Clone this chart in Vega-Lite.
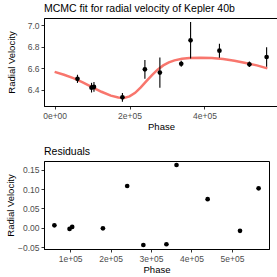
{
  "$schema": "https://vega.github.io/schema/vega-lite/v6.json",
  "background": "white",
  "padding": {"left": 4, "top": 3, "right": 5, "bottom": 0},
  "config": {
    "font": "Liberation Sans",
    "view": {"stroke": "black", "strokeWidth": 1},
    "axis": {
      "grid": false,
      "domainColor": "black",
      "domainWidth": 1,
      "tickColor": "#333333",
      "tickSize": 3,
      "labelColor": "#4D4D4D",
      "labelFontSize": 8.5,
      "titleFontSize": 9.5,
      "titleFontWeight": "normal",
      "titleColor": "black",
      "labelPadding": 2,
      "titlePadding": 2,
      "labelOverlap": false,
      "labelFlush": false
    },
    "title": {"fontSize": 10.5, "fontWeight": "normal", "anchor": "start", "frame": "group", "offset": 4},
    "concat": {"spacing": 14}
  },
  "datasets": {
    "obs": [
      {"phase": 61000, "rv": 6.500, "err": 0.038, "resid": 0.0067},
      {"phase": 98500, "rv": 6.418, "err": 0.045, "resid": -0.0025},
      {"phase": 105000, "rv": 6.425, "err": 0.045, "resid": 0.0025},
      {"phase": 181000, "rv": 6.328, "err": 0.040, "resid": -0.001},
      {"phase": 241000, "rv": 6.588, "err": 0.087, "resid": 0.108},
      {"phase": 281000, "rv": 6.558, "err": 0.140, "resid": -0.044},
      {"phase": 338000, "rv": 6.640, "err": 0.027, "resid": -0.042},
      {"phase": 363000, "rv": 6.858, "err": 0.170, "resid": 0.162},
      {"phase": 440000, "rv": 6.762, "err": 0.065, "resid": 0.074},
      {"phase": 520000, "rv": 6.635, "err": 0.025, "resid": -0.0075},
      {"phase": 566000, "rv": 6.703, "err": 0.090, "resid": 0.102}
    ],
    "fit": [
      {"phase": 0, "rv": 6.565},
      {"phase": 25000, "rv": 6.538},
      {"phase": 50000, "rv": 6.507},
      {"phase": 75000, "rv": 6.468},
      {"phase": 100000, "rv": 6.424},
      {"phase": 125000, "rv": 6.380},
      {"phase": 150000, "rv": 6.344},
      {"phase": 170000, "rv": 6.327},
      {"phase": 185000, "rv": 6.323},
      {"phase": 200000, "rv": 6.337},
      {"phase": 215000, "rv": 6.370},
      {"phase": 230000, "rv": 6.420},
      {"phase": 245000, "rv": 6.478},
      {"phase": 260000, "rv": 6.535},
      {"phase": 275000, "rv": 6.585},
      {"phase": 290000, "rv": 6.625},
      {"phase": 305000, "rv": 6.653},
      {"phase": 320000, "rv": 6.672},
      {"phase": 340000, "rv": 6.686},
      {"phase": 360000, "rv": 6.693},
      {"phase": 390000, "rv": 6.697},
      {"phase": 420000, "rv": 6.694},
      {"phase": 450000, "rv": 6.684},
      {"phase": 480000, "rv": 6.668},
      {"phase": 510000, "rv": 6.648},
      {"phase": 540000, "rv": 6.625},
      {"phase": 568000, "rv": 6.597}
    ]
  },
  "vconcat": [
    {
      "title": "MCMC fit for radial velocity of Kepler 40b",
      "width": 234,
      "height": 88,
      "encoding": {
        "x": {"field": "phase", "type": "quantitative", "title": "Phase",
          "scale": {"domain": [-28400, 596400], "nice": false, "zero": false},
          "axis": {"values": [0, 200000, 400000], "labelOverlap": false, "labelExpr": "replace(format(datum.value, '.0e'), 'e+', 'e+0')"}},
        "y": {"field": "rv", "type": "quantitative", "title": "Radial Velocity",
          "scale": {"domain": [6.2475, 7.0655], "nice": false, "zero": false},
          "axis": {"values": [6.4, 6.6, 6.8, 7.0], "labelOverlap": false, "format": ".1f", "titlePadding": 11}}
      },
      "layer": [
        {
          "data": {"name": "fit"},
          "mark": {"type": "line", "color": "#F8766D", "strokeWidth": 2.5}
        },
        {
          "data": {"name": "obs"},
          "transform": [
            {"calculate": "datum.rv - datum.err", "as": "lo"},
            {"calculate": "datum.rv + datum.err", "as": "hi"}
          ],
          "mark": {"type": "rule", "color": "black", "strokeWidth": 1.1},
          "encoding": {
            "y": {"field": "lo", "type": "quantitative", "title": "Radial Velocity",
              "scale": {"domain": [6.2475, 7.0655], "nice": false, "zero": false},
              "axis": {"values": [6.4, 6.6, 6.8, 7.0], "labelOverlap": false, "format": ".1f", "titlePadding": 11}},
            "y2": {"field": "hi"}
          }
        },
        {
          "data": {"name": "obs"},
          "mark": {"type": "circle", "color": "black", "opacity": 1, "size": 22}
        }
      ]
    },
    {
      "title": "Residuals",
      "width": 225,
      "height": 88,
      "data": {"name": "obs"},
      "mark": {"type": "circle", "color": "black", "opacity": 1, "size": 22},
      "encoding": {
        "x": {"field": "phase", "type": "quantitative", "title": "Phase",
          "scale": {"domain": [35300, 591700], "nice": false, "zero": false},
          "axis": {"values": [100000, 200000, 300000, 400000, 500000], "labelExpr": "replace(format(datum.value, '.0e'), 'e+', 'e+0')"}},
        "y": {"field": "resid", "type": "quantitative", "title": "Radial Velocity",
          "scale": {"domain": [-0.0543, 0.1723], "nice": false, "zero": false},
          "axis": {"values": [-0.05, 0, 0.05, 0.1, 0.15], "format": ".2f"}}
      }
    }
  ]
}
